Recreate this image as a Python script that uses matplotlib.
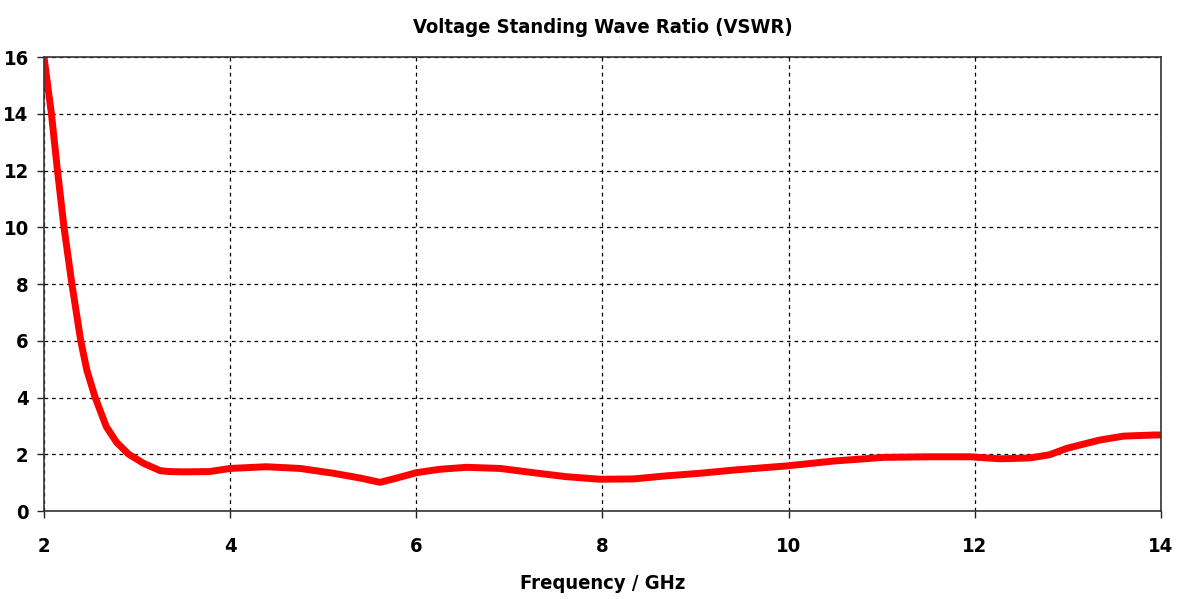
import matplotlib.pyplot as plt

# VSWR values
freq = [2.0, 2.08, 2.145, 2.215, 2.30, 2.395, 2.46, 2.55, 2.67, 2.78, 2.91, 3.07, 3.25, 3.35,
        3.5, 3.78, 4.0, 4.39, 4.75, 5.11, 5.4, 5.61, 5.8, 6.0, 6.25, 6.54, 6.90, 7.26, 7.61,
        7.97, 8.33, 8.69, 9.05, 9.40, 9.98, 10.48, 11.02, 11.5, 11.95, 12.27, 12.59, 12.8,
        12.99, 13.34, 13.60, 13.94, 14.0]
vswr = [16.0, 14.0, 12.0, 10.0, 8.0, 6.0, 4.97, 4.0, 2.97, 2.42, 2.0, 1.68, 1.42, 1.39,
        1.38, 1.39, 1.5, 1.56, 1.5, 1.33, 1.16, 1.01, 1.17, 1.35, 1.47, 1.54, 1.5, 1.35, 1.21,
        1.12, 1.13, 1.24, 1.33, 1.44, 1.59, 1.76, 1.89, 1.91, 1.91, 1.84, 1.87, 1.98,
        2.21, 2.50, 2.64, 2.68, 2.68]

plt.rcParams['font.family'] = ['DejaVu Sans']
plt.rcParams['font.stretch'] = 'condensed'
plt.rcParams['font.weight'] = 'bold'

fig = plt.figure(figsize=(11.79, 5.99), dpi=100)
ax = fig.add_axes([0.0373, 0.1469, 0.9474, 0.7579])
ax.plot(freq, vswr, color='#ff0000', linewidth=5, solid_joinstyle='round')

ax.set_xlim(2, 14)
ax.set_ylim(0, 16)
ax.set_xticks(range(2, 15, 2))
ax.set_yticks(range(0, 17, 2))
ax.grid(True, color='black', linestyle=(0, (3, 3)), linewidth=0.9)
ax.tick_params(labelsize=14.5, length=5, width=1, colors='#222222', labelcolor='black')
ax.tick_params(axis='x', pad=14)
ax.tick_params(axis='y', pad=6)
for s in ax.spines.values():
    s.set_color('#333333')
    s.set_linewidth(1.2)

ax.set_title('Voltage Standing Wave Ratio (VSWR)', fontsize=14.5, fontweight='bold', pad=17)
ax.set_xlabel('Frequency / GHz', fontsize=14.5, fontweight='bold', labelpad=13)

fig.savefig('out.png', dpi=100)
